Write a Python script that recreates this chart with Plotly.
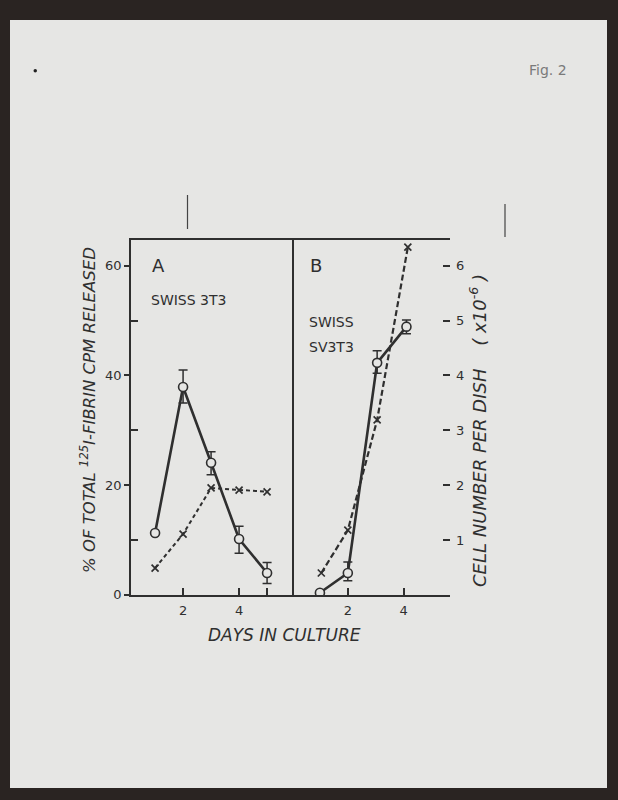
import plotly.graph_objects as go

# ---------------- data ----------------
# Panel A : SWISS 3T3
days_a = [1, 2, 3, 4, 5]
release_a = [11.3, 37.9, 24.1, 10.2, 4.0]          # % of total 125I-fibrin cpm released
release_a_err_up = [0.0, 3.1, 2.0, 2.3, 1.9]
release_a_err_dn = [0.0, 2.9, 2.2, 2.6, 1.9]
cells_a = [0.49, 1.11, 1.95, 1.91, 1.88]           # cell number per dish (x10^-6)

# Panel B : SWISS SV3T3
days_b_release = [1.0, 2.0, 3.05, 4.1]
release_b = [0.4, 4.0, 42.3, 48.9]
release_b_err_up = [0.0, 2.0, 2.2, 1.2]
release_b_err_dn = [0.0, 1.4, 1.9, 1.3]
days_b_cells = [1.05, 2.0, 3.05, 4.15]
cells_b = [0.40, 1.18, 3.19, 6.34]

left_ticks = [0, 20, 40, 60]
left_minor = [10, 30, 50]
right_ticks = [1, 2, 3, 4, 5, 6]
day_ticks_a = [2, 4, 5]
day_ticktext_a = ["2", "4", ""]
day_ticks_b = [2, 4]

# ---------------- styling ----------------
W, H = 618, 800
INK = "#2f2f2f"
PAPER = "#e6e6e4"
FRAME = "#2a2422"
FONT = "DejaVu Sans"
VSCALE = 808 / 800  # the photographed page comes out slightly squeezed vertically


def px(x):
    return x / W


def py(y):
    return 1 - y * VSCALE / H


y_dom = [py(595), py(240)]
REL_RANGE = [0, 64.7]
CELL_RANGE = [0, 6.47]

fig = go.Figure()

err_common = dict(type="data", symmetric=False, thickness=1.5, width=4.5, color=INK)
circle_marker = dict(symbol="circle", size=9, color=PAPER, line=dict(color=INK, width=1.6))
x_marker = dict(symbol="x-thin-open", size=7, color=INK, line=dict(color=INK, width=1.7))

# Panel A
fig.add_trace(go.Scatter(
    x=days_a, y=release_a, xaxis="x", yaxis="y", mode="lines+markers",
    line=dict(color=INK, width=2.6), marker=circle_marker,
    error_y=dict(array=release_a_err_up, arrayminus=release_a_err_dn, **err_common),
    showlegend=False, hoverinfo="skip"))
fig.add_trace(go.Scatter(
    x=days_a, y=cells_a, xaxis="x", yaxis="y3", mode="lines+markers",
    line=dict(color=INK, width=2, dash="4px,3px"), marker=x_marker,
    showlegend=False, hoverinfo="skip"))

# Panel B
fig.add_trace(go.Scatter(
    x=days_b_release, y=release_b, xaxis="x2", yaxis="y5", mode="lines+markers",
    line=dict(color=INK, width=2.6), marker=circle_marker,
    error_y=dict(array=release_b_err_up, arrayminus=release_b_err_dn, **err_common),
    showlegend=False, hoverinfo="skip"))
fig.add_trace(go.Scatter(
    x=days_b_cells, y=cells_b, xaxis="x2", yaxis="y4", mode="lines+markers",
    line=dict(color=INK, width=2.2, dash="6px,3px"), marker=x_marker,
    showlegend=False, hoverinfo="skip"))

tickfont = dict(family=FONT, size=13, color=INK)
axline = dict(showline=True, linecolor=INK, linewidth=1.5, showgrid=False, zeroline=False,
              tickcolor=INK, tickwidth=1.5)

fig.update_layout(
    width=W, height=H,
    margin=dict(l=0, r=0, t=0, b=0),
    paper_bgcolor=FRAME,
    plot_bgcolor="rgba(0,0,0,0)",
    showlegend=False,
    xaxis=dict(domain=[px(131), px(292)], range=[0.14, 5.89], anchor="y", mirror=True,
               ticks="inside", ticklen=7, tickvals=day_ticks_a, ticktext=day_ticktext_a,
               ticklabelstandoff=3, tickfont=tickfont, **axline),
    yaxis=dict(domain=y_dom, range=REL_RANGE, anchor="x", mirror=True,
               ticks="outside", ticklen=5, tickvals=left_ticks, tickfont=tickfont,
               minor=dict(tickvals=left_minor, ticks="inside", ticklen=7,
                          tickcolor=INK, tickwidth=1.5),
               **axline),
    yaxis3=dict(domain=y_dom, range=CELL_RANGE, overlaying="y", anchor="x", visible=False),
    xaxis2=dict(domain=[px(292), px(450)], range=[0, 5.66], anchor="y2", mirror=True,
                ticks="inside", ticklen=7, tickvals=day_ticks_b, ticklabelstandoff=3,
                tickfont=tickfont, **axline),
    yaxis2=dict(domain=y_dom, range=CELL_RANGE, anchor="x2", side="left", mirror=True,
                ticks="outside", ticklen=7, tickvals=right_ticks, showticklabels=False,
                **axline),
    yaxis4=dict(domain=y_dom, range=CELL_RANGE, overlaying="y2", anchor="x2", side="right",
                ticks="inside", ticklen=7, tickvals=right_ticks, tickfont=tickfont,
                ticklabelstandoff=5,
                showline=False, showgrid=False, zeroline=False, tickcolor=INK, tickwidth=1.5),
    yaxis5=dict(domain=y_dom, range=REL_RANGE, overlaying="y2", anchor="x2", visible=False),
)

# photographed sheet of paper and marks
shapes = [
    dict(type="rect", xref="paper", yref="paper", x0=px(10), x1=px(607), y0=py(788), y1=py(20),
         fillcolor=PAPER, line=dict(width=0), layer="below"),
    dict(type="line", xref="paper", yref="paper", x0=px(187.5), x1=px(187.5), y0=py(229), y1=py(195),
         line=dict(color="#444", width=1.2)),
    dict(type="line", xref="paper", yref="paper", x0=px(505), x1=px(505), y0=py(237), y1=py(204),
         line=dict(color="#444", width=1.2)),
    dict(type="circle", xref="paper", yref="paper", x0=px(33.5), x1=px(37), y0=py(72.5), y1=py(69),
         fillcolor="#222", line=dict(width=0)),
]
fig.update_layout(shapes=shapes)


def ann(text, x, y, size, angle=0, xanchor="center", italic=False, color=INK, family=FONT):
    if italic:
        text = "<i>" + text + "</i>"
    fig.add_annotation(text=text, x=px(x), y=py(y), xref="paper", yref="paper",
                       showarrow=False, textangle=angle, xanchor=xanchor, yanchor="middle",
                       font=dict(family=family, size=size, color=color))


NB = "\u00a0"
ann("A", 158, 266, 18)
ann("SWISS 3T3", 188, 300, 14)
ann("B", 316, 266, 18)
ann("SWISS", 307, 322, 14, xanchor="left")
ann("SV3T3", 307, 347, 14, xanchor="left")
ann("% OF TOTAL <sup>125</sup>I-FIBRIN CPM RELEASED", 88, 410, 16.5, angle=-90, italic=True)
ann("CELL NUMBER PER DISH" + NB * 4 + "(" + NB + "x10<sup>-6</sup>" + NB + ")",
    478, 431, 18, angle=-90, italic=True)
ann("DAYS IN CULTURE", 284, 635, 17, italic=True)
ann("Fig. 2", 548, 70, 14, color="#7a7a7a")

css = ("var s=document.createElement('style');"
       "s.innerHTML='html,body{margin:0;padding:0;overflow:hidden;height:800px;background:%s}"
       ".plotly-graph-div{display:block}';"
       "document.head.appendChild(s);" % FRAME)
fig.write_html("out.html", config={"displayModeBar": False}, post_script=css)
